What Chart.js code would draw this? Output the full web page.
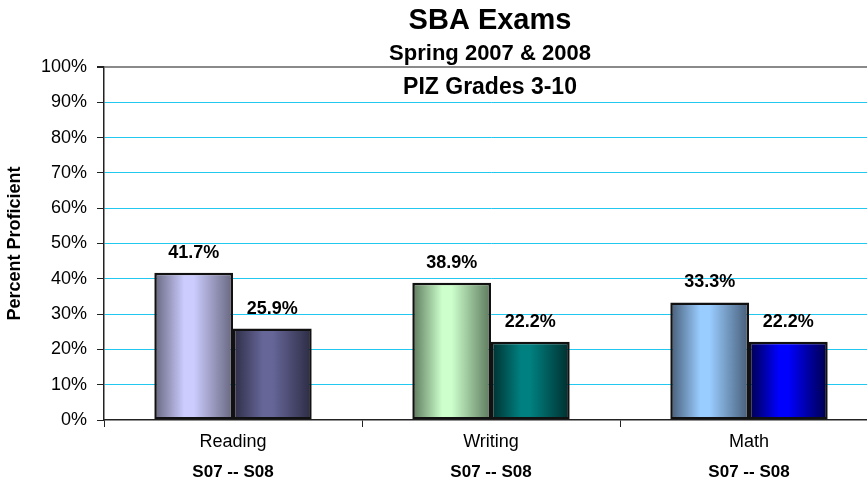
<!DOCTYPE html>
<html>
<head>
<meta charset="utf-8">
<script src="https://cdn.jsdelivr.net/npm/chart.js@4.4.0/dist/chart.umd.min.js"></script>
<style>
  html, body { margin: 0; padding: 0; background: #fff; overflow: hidden; }
  #wrap { width: 880px; height: 484px; }
</style>
</head>
<body>
<div id="wrap"><canvas id="c" width="880" height="484"></canvas></div>
<script>
// ---- data ----
const categories = ['Reading', 'Writing', 'Math'];
const subLabels = ['S07 -- S08', 'S07 -- S08', 'S07 -- S08'];
const seriesNames = ['S07', 'S08'];
const s07 = [41.7, 38.9, 33.3];
const s08 = [25.9, 22.2, 22.2];
const titleLines = ['SBA Exams', 'Spring 2007 & 2008', 'PIZ Grades 3-10'];
const yAxisTitle = 'Percent Proficient';

// ---- styles ----
const FONT = 'Arial, "Liberation Sans", Helvetica, sans-serif';
const CAT_PCT = 0.61;
const s07Light = ['#ccccff', '#ccffcc', '#99ccff'];
const s07Dark  = ['#66667f', '#5c785c', '#465c76'];
const s08Light = ['#666699', '#008080', '#0000ff'];
const s08Dark  = ['#2c2c44', '#002e2e', '#00004a'];

function gradFill(lights, darks, dsIndex) {
  return function (ctx) {
    const i = ctx.dataIndex;
    const chart = ctx.chart;
    const xs = chart.scales && chart.scales.x;
    if (i === undefined) return darks[0];
    if (!xs || !isFinite(xs.width) || xs.width <= 0) return lights[i];
    const cw = xs.width / categories.length;
    const bw = cw * CAT_PCT / 2;
    const c = xs.getPixelForValue(i);
    if (!isFinite(c)) return lights[i];
    const x0 = dsIndex === 0 ? c - bw : c;
    const g = chart.ctx.createLinearGradient(x0, 0, x0 + bw, 0);
    g.addColorStop(0, darks[i]);
    g.addColorStop(0.38, lights[i]);
    g.addColorStop(0.5, lights[i]);
    g.addColorStop(1, darks[i]);
    return g;
  };
}

const labelPlugin = {
  id: 'barLabels',
  afterDatasetsDraw(chart) {
    const ctx = chart.ctx;
    ctx.save();
    ctx.font = 'bold 18px ' + FONT;
    ctx.fillStyle = '#000';
    ctx.textAlign = 'center';
    ctx.textBaseline = 'alphabetic';
    chart.data.datasets.forEach((ds, di) => {
      const meta = chart.getDatasetMeta(di);
      meta.data.forEach((el, i) => {
        ctx.fillText(ds.data[i].toFixed(1) + '%', el.x, el.y - 15);
      });
    });
    ctx.restore();
  }
};

const textPlugin = {
  id: 'extraText',
  afterDraw(chart) {
    const ctx = chart.ctx;
    const xs = chart.scales.x;
    ctx.save();
    ctx.fillStyle = '#000';
    ctx.textAlign = 'center';
    ctx.textBaseline = 'alphabetic';
    // second line of category labels
    ctx.font = 'bold 17px ' + FONT;
    subLabels.forEach((t, i) => {
      ctx.fillText(t, xs.getPixelForValue(i), 477);
    });
    // titles
    const cx = 490;
    ctx.font = 'bold 29px ' + FONT;
    ctx.fillText(titleLines[0], cx, 29);
    ctx.font = 'bold 22px ' + FONT;
    ctx.fillText(titleLines[1], cx, 60);
    ctx.font = 'bold 23px ' + FONT;
    ctx.fillText(titleLines[2], cx, 94);
    ctx.restore();
  }
};

new Chart(document.getElementById('c'), {
  type: 'bar',
  data: {
    labels: categories,
    datasets: [
      { label: seriesNames[0], data: s07, backgroundColor: gradFill(s07Light, s07Dark, 0),
        borderColor: '#111', borderWidth: 2.5, borderSkipped: false,
        categoryPercentage: CAT_PCT, barPercentage: 1 },
      { label: seriesNames[1], data: s08, backgroundColor: gradFill(s08Light, s08Dark, 1),
        borderColor: '#111', borderWidth: 2.5, borderSkipped: false,
        categoryPercentage: CAT_PCT, barPercentage: 1 }
    ]
  },
  options: {
    responsive: false,
    animation: false,
    events: [],
    layout: { padding: { top: 67, right: 2, left: 0, bottom: 0 } },
    plugins: { legend: { display: false }, tooltip: { enabled: false }, title: { display: false } },
    scales: {
      x: {
        offset: true,
        grid: { offset: true, drawOnChartArea: false, drawTicks: true, tickLength: 7, tickColor: '#222' },
        border: { display: true, color: '#222', width: 1.5 },
        ticks: { color: '#000', font: { family: FONT, size: 18 }, padding: 4, maxRotation: 0 },
        afterFit(s) { s.height = 64; }
      },
      y: {
        min: 0, max: 100,
        ticks: { stepSize: 10, color: '#000', font: { family: FONT, size: 18 }, padding: 10,
                 callback: v => v + '%' },
        grid: {
          color: c => (c.tick && c.tick.value === 100) ? '#8a8a8a' : (c.tick && c.tick.value === 0 ? 'rgba(0,0,0,0)' : '#22c8f0'),
          lineWidth: c => (c.tick && c.tick.value === 100) ? 2 : 1,
          tickLength: 7, tickColor: '#222', drawTicks: true
        },
        border: { display: true, color: '#222', width: 1.5 },
        title: { display: true, text: yAxisTitle, color: '#000', font: { family: FONT, size: 18, weight: 'bold' }, padding: { top: 4, bottom: 0 } },
        afterFit(s) { s.width = 104; }
      }
    }
  },
  plugins: [labelPlugin, textPlugin]
});
</script>
</body>
</html>
